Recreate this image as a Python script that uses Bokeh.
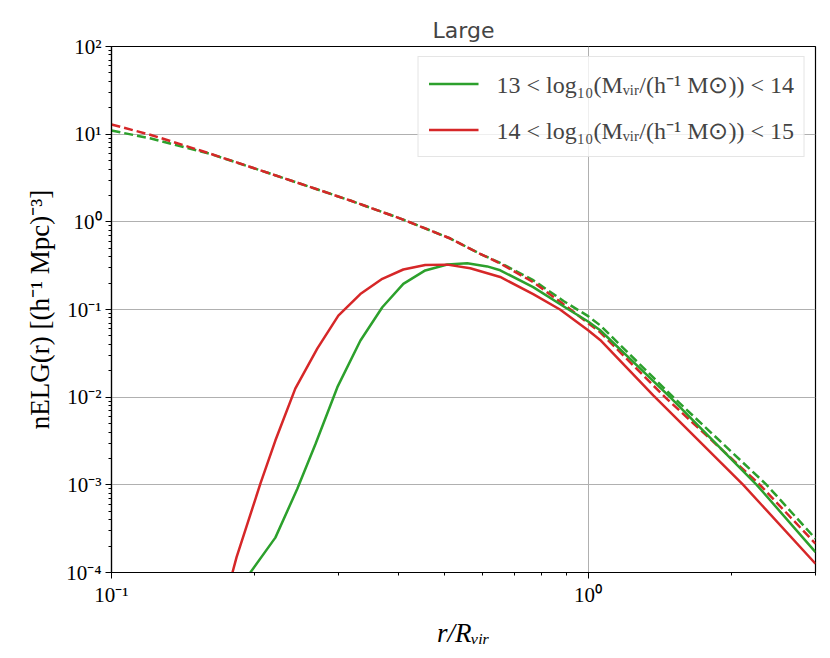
from bokeh.plotting import figure
from bokeh.models import (Range1d, FixedTicker, CustomJSTickFormatter, Legend,
                          LegendItem)
from bokeh.embed import file_html
from bokeh.resources import INLINE

# ---------------- data ----------------
# 13 < log10(Mvir) < 14  (green)
x_g_dash = [0.1, 0.121, 0.161, 0.215, 0.317, 0.404, 0.514, 0.594, 0.654, 0.767,
            0.888, 1.0, 1.06, 1.509, 2.369, 3.0]
y_g_dash = [11.0, 8.93, 5.97, 3.56, 1.75, 1.09, 0.645, 0.43, 0.34, 0.216,
            0.125, 0.084, 0.066, 0.01, 0.001, 2.43e-4]
x_g_solid = [0.19, 0.1956, 0.2207, 0.2454, 0.2678, 0.2978, 0.3327, 0.37, 0.4095,
             0.4553, 0.5064, 0.5577, 0.6142, 0.654, 0.767, 0.91, 1.0, 1.06,
             1.486, 2.258, 3.0]
y_g_solid = [8e-5, 1e-4, 2.5e-4, 9e-4, 2.9e-3, 0.013, 0.044, 0.106, 0.196,
             0.279, 0.326, 0.337, 0.31, 0.28, 0.18, 0.1, 0.073, 0.058,
             0.01, 0.001, 1.71e-4]

# 14 < log10(Mvir) < 15  (red)
x_r_dash = [0.1, 0.121, 0.161, 0.215, 0.317, 0.404, 0.514, 0.594, 0.654, 0.767,
            0.888, 1.0, 1.06, 1.45, 2.294, 3.0]
y_r_dash = [12.9, 9.8, 6.0, 3.56, 1.75, 1.09, 0.645, 0.43, 0.335, 0.205,
            0.115, 0.07, 0.055, 0.01, 0.001, 2.13e-4]
x_r_solid = [0.178, 0.1794, 0.183, 0.2053, 0.2207, 0.243, 0.2704, 0.2992, 0.3327,
             0.37, 0.4095, 0.4553, 0.5064, 0.5658, 0.654, 0.767, 0.873, 1.0,
             1.06, 1.37, 2.116, 3.0]
y_r_solid = [3e-5, 1e-4, 1.5e-4, 1.03e-3, 3.2e-3, 0.0125, 0.036, 0.085, 0.15,
             0.224, 0.286, 0.322, 0.325, 0.295, 0.235, 0.15, 0.1, 0.058,
             0.045, 0.0105, 0.001, 1.26e-4]

labels = ["13 < log\u2081\u2080(M\u1d65\u1d62\u1d63/(h\u207b\u00b9 M\u2299)) < 14",
          "14 < log\u2081\u2080(M\u1d65\u1d62\u1d63/(h\u207b\u00b9 M\u2299)) < 15"]
title_text = "Large"
x_label = "r/R\u1d65\u1d62\u1d63"
y_label = "nELG(r) [(h\u207b\u00b9 Mpc)\u207b\u00b3]"

x_major = [0.1, 1.0]
x_minor = [0.2, 0.3, 0.4, 0.5, 0.6, 0.7, 0.8, 0.9, 2.0, 3.0]
y_major = [1e-4, 1e-3, 1e-2, 1e-1, 1e0, 1e1, 1e2]
y_minor = [m * d for d in [1e-4, 1e-3, 1e-2, 1e-1, 1e0, 1e1] for m in range(2, 10)]

GREEN = "#2ca02c"
RED = "#d62728"
SERIF = "Liberation Serif"

p = figure(width=822, height=650, x_axis_type="log", y_axis_type="log",
           x_range=Range1d(0.1, 3.0), y_range=Range1d(1e-4, 1e2),
           output_backend="svg", toolbar_location=None,
           min_border_left=111, min_border_right=7, min_border_top=46,
           min_border_bottom=78)
p.background_fill_color = "white"
p.border_fill_color = "white"
p.outline_line_color = "black"
p.outline_line_width = 1.2
p.outline_line_alpha = 1.0

p.title.text = title_text
p.title.align = "center"
p.title.text_font = "DejaVu Sans"
p.title.text_font_size = "22px"
p.title.text_font_style = "normal"
p.title.standoff = 8

xt = FixedTicker(ticks=x_major, minor_ticks=x_minor)
yt = FixedTicker(ticks=y_major, minor_ticks=y_minor)
p.xaxis.ticker = xt
p.yaxis.ticker = yt
p.xgrid.ticker = xt
p.ygrid.ticker = yt

fmt_code = """
const e = Math.round(Math.log10(tick));
const m = {'-':'\u207b','0':'\u2070','1':'\u00b9','2':'\u00b2','3':'\u00b3','4':'\u2074'};
return '10' + String(e).split('').map(c => m[c]).join('');
"""
p.xaxis.formatter = CustomJSTickFormatter(code=fmt_code)
p.yaxis.formatter = CustomJSTickFormatter(code=fmt_code)

for ax in p.axis:
    ax.major_label_text_font = SERIF
    ax.major_label_text_font_size = "21px"
    ax.major_label_text_color = "black"
    ax.major_tick_out = 6
    ax.major_tick_in = 0
    ax.minor_tick_out = 3
    ax.minor_tick_in = 0
    ax.axis_line_color = "black"
    ax.axis_line_width = 1.2
    ax.major_tick_line_color = "black"
    ax.minor_tick_line_color = "black"
    ax.major_label_standoff = 4
    ax.axis_label_text_font = SERIF
    ax.axis_label_text_font_size = "27px"
    ax.axis_label_text_color = "black"

p.xaxis.axis_label = x_label
p.xaxis.axis_label_text_font_style = "italic"
p.xaxis.axis_label_standoff = 8
p.yaxis.axis_label = y_label
p.yaxis.axis_label_text_font_style = "normal"
p.yaxis.axis_label_standoff = 8

p.grid.grid_line_color = "#b0b0b0"
p.grid.grid_line_width = 1

gd = p.line(x_g_dash, y_g_dash, line_color=GREEN, line_width=2.5, line_dash="9 4")
rd = p.line(x_r_dash, y_r_dash, line_color=RED, line_width=2.5, line_dash="9 4")
gs = p.line(x_g_solid, y_g_solid, line_color=GREEN, line_width=2.5)
rs = p.line(x_r_solid, y_r_solid, line_color=RED, line_width=2.5)

legend = Legend(items=[LegendItem(label=labels[0], renderers=[gs]),
                       LegendItem(label=labels[1], renderers=[rs])],
                location="top_right")
legend.glyph_width = 50
legend.glyph_height = 25
legend.label_height = 25
legend.label_standoff = 18
legend.spacing = 13
legend.padding = 10
legend.margin = 10
legend.label_text_font = SERIF
legend.label_text_font_size = "24px"
legend.border_line_color = "#cccccc"
legend.border_line_width = 1
legend.background_fill_alpha = 0.8
p.add_layout(legend)

open("out.html", "w").write(file_html(p, INLINE))
